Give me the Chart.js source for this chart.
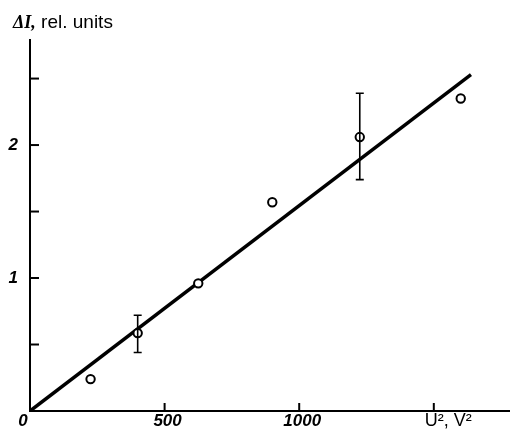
<!DOCTYPE html>
<html>
<head>
<meta charset="utf-8">
<script src="https://cdn.jsdelivr.net/npm/chart.js@4.4.1/dist/chart.umd.min.js"></script>
<style>
html,body{margin:0;padding:0;background:#fff;}
#wrap{width:510px;height:433px;position:relative;}
</style>
</head>
<body>
<div id="wrap"><canvas id="c" width="510" height="433"></canvas></div>
<script>
// data
const voltageSq = [225, 400, 625, 900, 1225, 1600];        // U^2, V^2
const deltaI    = [0.24, 0.586, 0.96, 1.57, 2.06, 2.35];   // ΔI, rel. units
const errLow    = [null, 0.44, null, null, 1.74, null];
const errHigh   = [null, 0.72, null, null, 2.39, null];
const fitX      = [0, 1638];
const fitY      = [0, 2.53];
const xTickValues = [0, 500, 1000];
const xTickLabels = ['0', '500', '1000'];
const yTickLabels = {1: '1', 2: '2'};
const xAxisTitle = 'U², V²';
const yAxisTitleA = 'ΔI,';
const yAxisTitleB = ' rel. units';

const numFamily = '"Liberation Sans Narrow", "Liberation Sans", Arial, sans-serif';
const numFont = 'bold italic 17px ' + numFamily;

const decor = {
  id: 'decor',
  afterDatasetsDraw(chart) {
    const ctx = chart.ctx;
    const xs = chart.scales.x, ys = chart.scales.y;
    ctx.save();
    ctx.strokeStyle = '#000';
    ctx.lineWidth = 1.6;
    for (let i = 0; i < voltageSq.length; i++) {
      if (errLow[i] == null) continue;
      const px = xs.getPixelForValue(voltageSq[i]);
      const y1 = ys.getPixelForValue(errLow[i]);
      const y2 = ys.getPixelForValue(errHigh[i]);
      ctx.beginPath();
      ctx.moveTo(px, y1); ctx.lineTo(px, y2);
      ctx.moveTo(px - 4, y1); ctx.lineTo(px + 4, y1);
      ctx.moveTo(px - 4, y2); ctx.lineTo(px + 4, y2);
      ctx.stroke();
    }
    ctx.restore();
  },
  afterDraw(chart) {
    const ctx = chart.ctx;
    const xs = chart.scales.x, ys = chart.scales.y;
    const x0 = xs.getPixelForValue(0), y0 = ys.getPixelForValue(0);
    ctx.save();
    ctx.strokeStyle = '#000';
    ctx.lineWidth = 2;
    [500, 1000, 1500].forEach(v => {
      const p = xs.getPixelForValue(v);
      ctx.beginPath(); ctx.moveTo(p, y0); ctx.lineTo(p, y0 - 8); ctx.stroke();
    });
    [0.5, 1, 1.5, 2, 2.5].forEach(v => {
      const p = ys.getPixelForValue(v);
      ctx.beginPath(); ctx.moveTo(x0, p); ctx.lineTo(x0 + 9, p); ctx.stroke();
    });
    ctx.beginPath(); ctx.moveTo(chart.chartArea.right - 2, y0); ctx.lineTo(chart.width, y0); ctx.stroke();
    // x tick labels
    ctx.fillStyle = '#000';
    ctx.font = numFont;
    ctx.textAlign = 'center';
    ctx.textBaseline = 'middle';
    xTickValues.forEach((v, i) => {
      const off = v === 0 ? -7 : 3;
      ctx.fillText(xTickLabels[i], xs.getPixelForValue(v) + off, y0 + 10);
    });
    ctx.font = '18px "Liberation Sans", Arial, sans-serif';
    ctx.textAlign = 'left';
    ctx.fillText(xAxisTitle, xs.getPixelForValue(1500) - 9, y0 + 10);
    ctx.font = 'bold italic 18px "Liberation Serif", serif';
    ctx.textBaseline = 'alphabetic';
    ctx.fillText(yAxisTitleA, 13, 28);
    const w = ctx.measureText(yAxisTitleA).width;
    ctx.font = '19px "Liberation Sans", Arial, sans-serif';
    ctx.fillText(yAxisTitleB, 13 + w, 28);
    ctx.restore();
  }
};

new Chart(document.getElementById('c'), {
  type: 'scatter',
  data: {
    datasets: [
      {
        label: 'fit',
        type: 'line',
        data: fitX.map((x, i) => ({x: x, y: fitY[i]})),
        borderColor: '#000',
        borderWidth: 3.5,
        pointRadius: 0,
        fill: false,
        order: 2
      },
      {
        label: 'measured',
        data: voltageSq.map((x, i) => ({x: x, y: deltaI[i]})),
        pointRadius: 4.2,
        pointBorderWidth: 2,
        pointBackgroundColor: '#fff',
        pointBorderColor: '#000',
        order: 1
      }
    ]
  },
  options: {
    responsive: false,
    animation: false,
    layout: {padding: {top: 40, right: 0, left: 0, bottom: 0}},
    plugins: {legend: {display: false}, tooltip: {enabled: false}},
    scales: {
      x: {
        type: 'linear', min: 0, max: 1760,
        afterFit(s) { s.height = 22; },
        border: {display: true, color: '#000', width: 2},
        grid: {display: false},
        ticks: {display: false, stepSize: 500}
      },
      y: {
        type: 'linear', min: 0, max: 2.79,
        afterFit(s) { s.width = 30; },
        border: {display: true, color: '#000', width: 2},
        grid: {display: false},
        ticks: {
          stepSize: 0.5, includeBounds: false, autoSkip: false,
          color: '#000', padding: 4, font: {family: numFamily, size: 17, style: 'italic', weight: 'bold'},
          callback: function (v) { return (v in yTickLabels) ? yTickLabels[v] : ''; }
        }
      }
    }
  },
  plugins: [decor]
});
</script>
</body>
</html>
